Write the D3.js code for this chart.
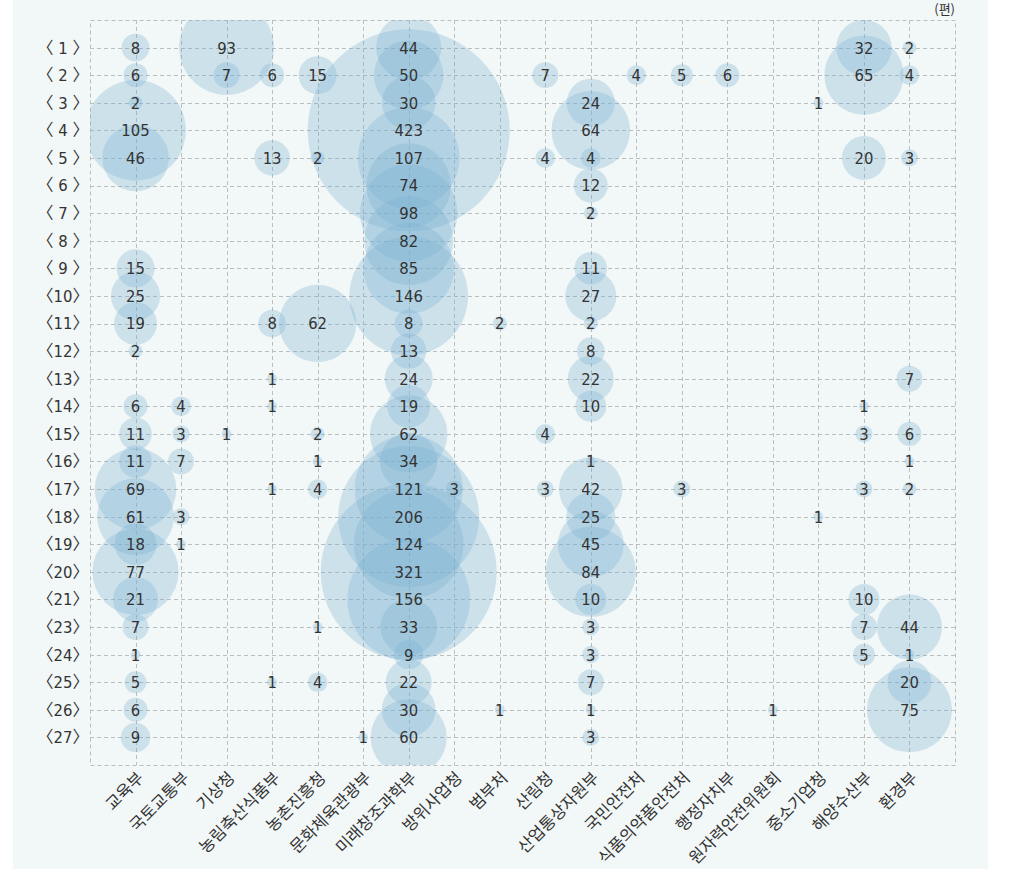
<!DOCTYPE html>
<html><head><meta charset="utf-8">
<script src="https://cdn.jsdelivr.net/npm/d3@7"></script>
<style>
html,body{margin:0;padding:0;background:#fff;}
svg{display:block;}
</style></head>
<body>
<svg id="chart" width="1025" height="896"></svg>
<script>
const ministries = ["교육부","국토교통부","기상청","농림축산식품부","농촌진흥청","문화체육관광부","미래창조과학부","방위사업청","범부처","산림청","산업통상자원부","국민안전처","식품의약품안전처","행정자치부","원자력안전위원회","중소기업청","해양수산부","환경부"];
const sessions = ["1","2","3","4","5","6","7","8","9","10","11","12","13","14","15","16","17","18","19","20","21","23","24","25","26","27"];
const rowLabels = sessions.map(s => s.length === 1 ? "〈 " + s + " 〉" : "〈" + s + "〉");
const unitLabel = "(편)";

// [session, ministry, count]
const counts = [
  ["1","교육부",8],["1","기상청",93],["1","미래창조과학부",44],["1","해양수산부",32],["1","환경부",2],
  ["2","교육부",6],["2","기상청",7],["2","농림축산식품부",6],["2","농촌진흥청",15],["2","미래창조과학부",50],["2","산림청",7],["2","국민안전처",4],["2","식품의약품안전처",5],["2","행정자치부",6],["2","해양수산부",65],["2","환경부",4],
  ["3","교육부",2],["3","미래창조과학부",30],["3","산업통상자원부",24],["3","중소기업청",1],
  ["4","교육부",105],["4","미래창조과학부",423],["4","산업통상자원부",64],
  ["5","교육부",46],["5","농림축산식품부",13],["5","농촌진흥청",2],["5","미래창조과학부",107],["5","산림청",4],["5","산업통상자원부",4],["5","해양수산부",20],["5","환경부",3],
  ["6","미래창조과학부",74],["6","산업통상자원부",12],
  ["7","미래창조과학부",98],["7","산업통상자원부",2],
  ["8","미래창조과학부",82],
  ["9","교육부",15],["9","미래창조과학부",85],["9","산업통상자원부",11],
  ["10","교육부",25],["10","미래창조과학부",146],["10","산업통상자원부",27],
  ["11","교육부",19],["11","농림축산식품부",8],["11","농촌진흥청",62],["11","미래창조과학부",8],["11","범부처",2],["11","산업통상자원부",2],
  ["12","교육부",2],["12","미래창조과학부",13],["12","산업통상자원부",8],
  ["13","농림축산식품부",1],["13","미래창조과학부",24],["13","산업통상자원부",22],["13","환경부",7],
  ["14","교육부",6],["14","국토교통부",4],["14","농림축산식품부",1],["14","미래창조과학부",19],["14","산업통상자원부",10],["14","해양수산부",1],
  ["15","교육부",11],["15","국토교통부",3],["15","기상청",1],["15","농촌진흥청",2],["15","미래창조과학부",62],["15","산림청",4],["15","해양수산부",3],["15","환경부",6],
  ["16","교육부",11],["16","국토교통부",7],["16","농촌진흥청",1],["16","미래창조과학부",34],["16","산업통상자원부",1],["16","환경부",1],
  ["17","교육부",69],["17","농림축산식품부",1],["17","농촌진흥청",4],["17","미래창조과학부",121],["17","방위사업청",3],["17","산림청",3],["17","산업통상자원부",42],["17","식품의약품안전처",3],["17","해양수산부",3],["17","환경부",2],
  ["18","교육부",61],["18","국토교통부",3],["18","미래창조과학부",206],["18","산업통상자원부",25],["18","중소기업청",1],
  ["19","교육부",18],["19","국토교통부",1],["19","미래창조과학부",124],["19","산업통상자원부",45],
  ["20","교육부",77],["20","미래창조과학부",321],["20","산업통상자원부",84],
  ["21","교육부",21],["21","미래창조과학부",156],["21","산업통상자원부",10],["21","해양수산부",10],
  ["23","교육부",7],["23","농촌진흥청",1],["23","미래창조과학부",33],["23","산업통상자원부",3],["23","해양수산부",7],["23","환경부",44],
  ["24","교육부",1],["24","미래창조과학부",9],["24","산업통상자원부",3],["24","해양수산부",5],["24","환경부",1],
  ["25","교육부",5],["25","농림축산식품부",1],["25","농촌진흥청",4],["25","미래창조과학부",22],["25","산업통상자원부",7],["25","환경부",20],
  ["26","교육부",6],["26","미래창조과학부",30],["26","범부처",1],["26","산업통상자원부",1],["26","원자력안전위원회",1],["26","환경부",75],
  ["27","교육부",9],["27","문화체육관광부",1],["27","미래창조과학부",60],["27","산업통상자원부",3]
];

const svg = d3.select("#chart");
const L = 90, R = 955, T = 20, B = 765;

svg.append("rect").attr("x", 13).attr("y", 0).attr("width", 975).attr("height", 869).attr("fill", "#f2f7f7");

const x = d3.scalePoint().domain(ministries).range([L, R]).padding(1);
const y = d3.scalePoint().domain(sessions).range([T, B]).padding(1);
const r = d3.scaleSqrt().domain([0, 423]).range([0, 101]);

const grid = svg.append("g").attr("stroke", "#b9bebf").attr("stroke-width", 1).attr("stroke-dasharray", "4,3").attr("fill", "none");
grid.selectAll("line.v").data(ministries).join("line").attr("class","v")
  .attr("x1", d => Math.round(x(d)) + 0.5).attr("x2", d => Math.round(x(d)) + 0.5).attr("y1", T).attr("y2", B);
grid.selectAll("line.h").data(sessions).join("line").attr("class","h")
  .attr("y1", d => Math.round(y(d)) + 0.5).attr("y2", d => Math.round(y(d)) + 0.5).attr("x1", L).attr("x2", R);
grid.append("rect").attr("x", L + 0.5).attr("y", T + 0.5).attr("width", R - L).attr("height", B - T);

svg.append("defs").append("clipPath").attr("id", "plotclip")
  .append("rect").attr("x", L).attr("y", T).attr("width", R - L).attr("height", B - T);

const sorted = counts.slice().sort((a, b) => b[2] - a[2]);
svg.append("g").attr("clip-path", "url(#plotclip)")
  .selectAll("circle").data(sorted).join("circle")
  .attr("cx", d => x(d[1])).attr("cy", d => y(d[0])).attr("r", d => r(d[2]))
  .attr("fill", "#77b1cf").attr("fill-opacity", 0.3);

const numFont = "'Liberation Sans Narrow','DejaVu Sans Condensed','Noto Sans',sans-serif";
svg.append("g").selectAll("text").data(counts).join("text")
  .attr("x", d => x(d[1])).attr("y", d => y(d[0])).attr("dy", "0.36em")
  .attr("text-anchor", "middle").attr("font-family", numFont).attr("font-size", 16.5)
  .attr("fill", "#333").text(d => d[2]);

svg.append("g").selectAll("text").data(sessions).join("text")
  .attr("x", 63).attr("y", d => y(d)).attr("dy", "0.36em").attr("text-anchor", "middle")
  .attr("font-family", numFont + ",'Noto Sans CJK KR'").attr("font-size", 16.5).attr("fill", "#333")
  .text((d, i) => rowLabels[i]);

svg.append("g").selectAll("text").data(ministries).join("text")
  .attr("transform", d => `translate(${x(d) + 5},${B + 10}) rotate(-45)`)
  .attr("text-anchor", "end").attr("dy", "0.35em")
  .attr("font-family", "'Noto Sans CJK KR',sans-serif").attr("font-size", 16.5).attr("fill", "#333")
  .text(d => d);

svg.append("text").attr("x", 955).attr("y", 14).attr("text-anchor", "end")
  .attr("font-family", "'Noto Sans CJK KR',sans-serif").attr("font-size", 13).attr("fill", "#333")
  .text(unitLabel);
</script>
</body></html>
